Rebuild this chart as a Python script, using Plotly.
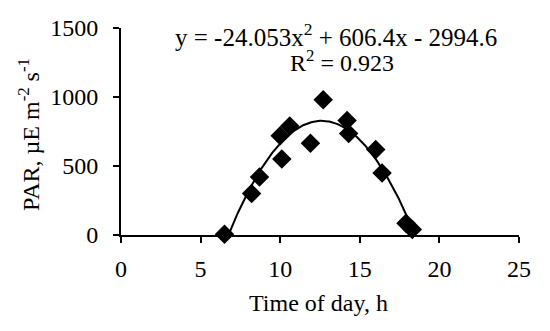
import numpy as np
import plotly.graph_objects as go

# Observed PAR values
time_h = [6.5, 8.2, 8.7, 10.1, 10.0, 10.6, 11.9, 12.7, 14.2, 14.3, 16.0, 16.4, 17.9, 18.3]
par = [5, 300, 420, 550, 720, 790, 665, 980, 830, 735, 620, 450, 85, 40]

# Trendline coefficients shown on the chart (a*x^2 + b*x + c)
trend_coefs = [-24.053, 606.4, -2994.6]
equation_text = "y = -24.053x<sup>2</sup> + 606.4x - 2994.6"
r2_text = "R<sup>2</sup> = 0.923"
x_title = "Time of day, h"
y_title = "PAR, µE m<sup>-2</sup> s<sup>-1</sup>"

x_ticks = [0, 5, 10, 15, 20, 25]
y_ticks = [0, 500, 1000, 1500]

xf = np.linspace(min(time_h), max(time_h), 200)
yf = np.polyval(trend_coefs, xf)

FONT = "Liberation Serif"
FS = 24
OFF = 8  # default page body margin
W, H = 534, 315
L, T = 121 - OFF, 28 - OFF
R = W - (519 - OFF)
B = H - (235 - OFF)
PW, PH = W - L - R, H - T - B

fig = go.Figure()
fig.add_trace(go.Scatter(x=xf, y=yf, mode="lines",
                         line=dict(color="black", width=2), hoverinfo="skip"))
fig.add_trace(go.Scatter(x=time_h, y=par, mode="markers", cliponaxis=False,
                         marker=dict(symbol="diamond", size=15, color="black")))

axis_common = dict(showgrid=False, zeroline=False, automargin=False,
                   showline=True, linecolor="black", linewidth=2,
                   ticks="outside", ticklen=6, tickwidth=2, tickcolor="black",
                   tickfont=dict(family=FONT, size=FS, color="black"))

fig.update_layout(
    width=W, height=H,
    margin=dict(l=L, r=R, t=T, b=B),
    paper_bgcolor="white", plot_bgcolor="white",
    showlegend=False,
    font=dict(family=FONT, size=FS, color="black"),
    xaxis=dict(range=[0, 25], tickvals=x_ticks, ticklabelstandoff=5, **axis_common),
    yaxis=dict(range=[0, 1500], tickvals=y_ticks, ticklabelstandoff=10, **axis_common),
)

def px_x(p):
    return (p - OFF - L) / PW

def px_y(p):
    return (H - B - (p - OFF)) / PH

ann_font = dict(family=FONT, size=FS, color="black")
common = dict(xref="paper", yref="paper", showarrow=False,
              xanchor="center", yanchor="middle")
fig.add_annotation(x=px_x(336), y=px_y(35), text=equation_text,
                   font=dict(family=FONT, size=25, color="black"), **common)
fig.add_annotation(x=px_x(342), y=px_y(61), text=r2_text, font=ann_font, **common)
fig.add_annotation(x=px_x(318), y=px_y(303), text=x_title, font=ann_font, **common)
fig.add_annotation(x=px_x(29), y=px_y(135), text=y_title, textangle=-90,
                   font=ann_font, **common)

fig.write_html("out.html")
